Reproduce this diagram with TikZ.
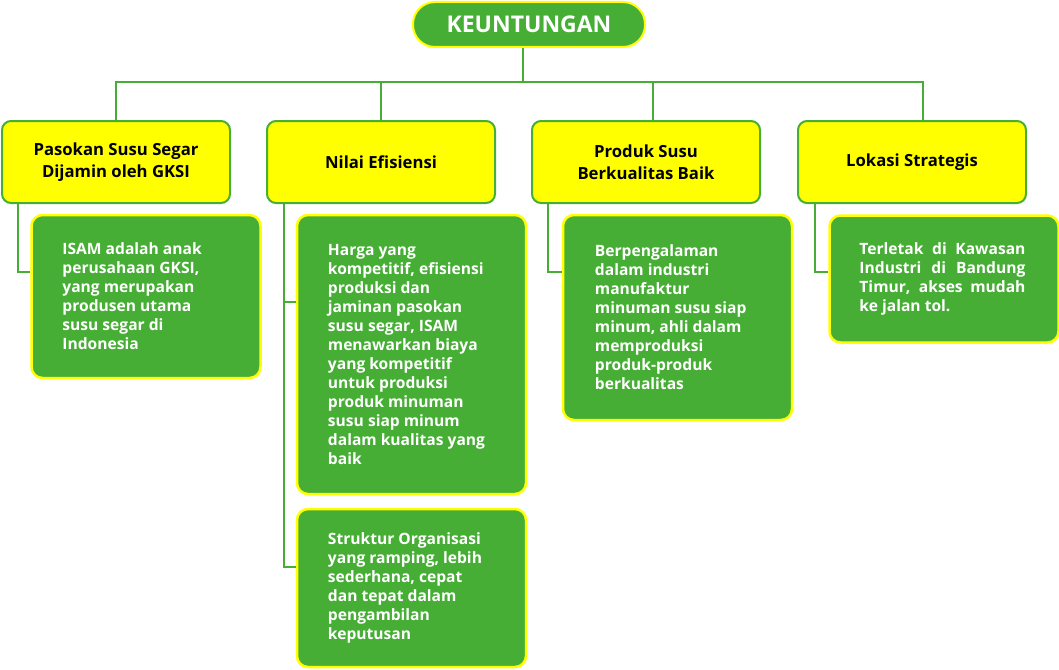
\documentclass[tikz,border=0pt]{standalone}
\usepackage{fontspec}
\setmainfont{Open Sans}
\definecolor{gfill}{RGB}{70,174,52}
\definecolor{yfill}{RGB}{255,255,0}
\begin{document}
\begin{tikzpicture}[x=1pt,y=-1pt,
 head/.style={draw=yfill,fill=gfill,line width=2pt,rounded corners=22pt,minimum width=232pt,minimum height=45pt,inner sep=0pt,text=white,font=\bfseries\fontsize{23}{26}\selectfont},
 cat/.style={draw=gfill,fill=yfill,line width=2pt,rounded corners=9pt,minimum width=228pt,minimum height=82pt,align=center,inner sep=0pt,font=\bfseries\fontsize{16.7}{22}\selectfont},
 detail/.style={draw=yfill,fill=gfill,line width=2.5pt,rounded corners=11pt,minimum width=229pt,inner sep=0pt},
 body/.style={text=white,align=left,anchor=west,inner sep=0pt,font=\bfseries\fontsize{15.6}{19}\selectfont},
 link/.style={draw=gfill,line width=2pt}]
\useasboundingbox (0,0) rectangle (1059,669);
% header
\node[head] (top) at (529,24.5) {KEUNTUNGAN};
% categories
\node[cat] (b1) at (116,162) {Pasokan Susu Segar\\Dijamin oleh GKSI};
\node[cat] (b2) at (381,162) {Nilai Efisiensi};
\node[cat] (b3) at (646,162) {Produk Susu\\Berkualitas Baik};
\node[cat] (b4) at (912,162) {Lokasi Strategis};
% detail boxes
\node[detail,minimum height=163pt] (g1) at (146,296.5) {};
\node[detail,minimum height=279pt] (g2) at (411.5,354.5) {};
\node[detail,minimum height=158pt] (g3) at (411.5,588) {};
\node[detail,minimum height=205pt] (g4) at (677.5,317.5) {};
\node[detail,minimum height=127pt] (g5) at (944,279) {};
% texts
\node[body] (t1) at ([xshift=32pt]g1.west) {ISAM adalah anak\\perusahaan GKSI,\\yang merupakan\\produsen utama\\susu segar di\\Indonesia};
\node[body] (t2) at ([xshift=32pt]g2.west) {Harga yang\\kompetitif, efisiensi\\produksi dan\\jaminan pasokan\\susu segar, ISAM\\menawarkan biaya\\yang kompetitif\\untuk produksi\\produk minuman\\susu siap minum\\dalam kualitas yang\\baik};
\node[body] (t3) at ([xshift=32pt]g3.west) {Struktur Organisasi\\yang ramping, lebih\\sederhana, cepat\\dan tepat dalam\\pengambilan\\keputusan};
\node[body] (t4) at ([xshift=33pt]g4.west) {Berpengalaman\\dalam industri\\manufaktur\\minuman susu siap\\minum, ahli dalam\\memproduksi\\produk-produk\\berkualitas};
\node[body] (t5) at ([xshift=31pt]g5.west) {\makebox[166pt][s]{Terletak di Kawasan}\\\makebox[166pt][s]{Industri di Bandung}\\\makebox[166pt][s]{Timur, akses mudah}\\ke jalan tol.};
% connectors
\path ([xshift=-6pt]top.south) ++(0,34) coordinate (hub);
\draw[link] ([xshift=-6pt]top.south) -- (hub);
\draw[link] (b1.north) |- (hub) -| ([xshift=11pt]b4.north);
\draw[link] (b2.north) -- (b2.north |- hub);
\draw[link] ([xshift=7pt]b3.north) -- ([xshift=7pt]b3.north |- hub);
\draw[link] ([xshift=17pt]b1.south west) |- ([yshift=-58pt]g1.north west);
\draw[link] ([xshift=18pt]b2.south west) |- ([yshift=-88pt]g2.north west);
\draw[link] ([xshift=18pt]b2.south west) |- ([yshift=-59pt]g3.north west);
\draw[link] ([xshift=17pt]b3.south west) |- ([yshift=-58pt]g4.north west);
\draw[link] ([xshift=18pt]b4.south west) |- ([yshift=-58pt]g5.north west);
\end{tikzpicture}
\end{document}
